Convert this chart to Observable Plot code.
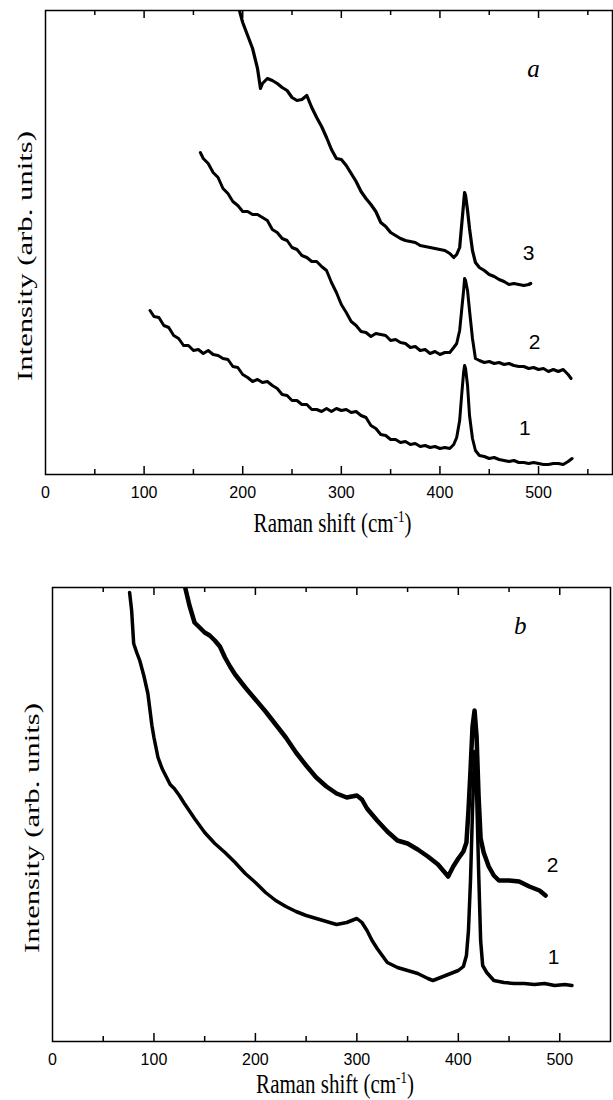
<!DOCTYPE html>
<html><head><meta charset="utf-8">
<script src="https://cdn.jsdelivr.net/npm/d3@7"></script>
<script src="https://cdn.jsdelivr.net/npm/@observablehq/plot@0.6"></script>
<style>body{margin:0;background:#fff}#c{width:613px}</style>
</head><body><div id="c"></div>
<script>
// ---------- data (Raman shift cm-1, intensity arb. units) ----------
const tickLabels = [0, 100, 200, 300, 400, 500];
const ticksMajor = [100, 200, 300, 400, 500];
const ticksMinorA = [50, 150, 250, 350, 450, 550];
const ticksMinorB = [50, 150, 250, 350, 450];

const a1 = [[106,164],[110,158],[115,157],[120,149],[125,147],[130,139],[135,136],[140,129],[145,129],[150,124],[155,125],[160,121],[165,124],[170,120],[175,119],[180,116],[185,115],[190,108],[195,107],[200,100],[205,97],[210,93],[215,95],[220,92],[225,93],[230,89],[235,86],[240,80],[245,79],[250,74],[255,74],[260,70],[265,70],[270,65],[275,65],[280,63],[285,66],[290,63],[295,66],[300,64],[305,65],[310,62],[315,63],[320,59],[325,57],[330,49],[335,46],[340,40],[345,39],[350,35],[355,35],[360,32],[365,33],[370,30],[375,31],[380,28],[385,29],[390,27],[395,28],[400,26],[405,27],[410,26],[414,30],[417,37],[420,54],[422,79],[424,102],[425,109],[426,106],[428,89],[430,59],[433,36],[436,24],[440,19],[445,18],[450,16],[455,17],[460,15],[465,14],[470,13],[475,14],[480,12],[485,12],[490,11],[495,12],[500,11],[505,10],[510,10],[515,11],[520,11],[525,10],[530,13],[534,16]];
const a2 = [[157,322],[160,316],[165,311],[170,302],[175,297],[180,286],[185,281],[190,273],[195,269],[200,263],[205,263],[210,260],[215,260],[220,257],[225,254],[230,245],[235,242],[240,236],[245,234],[250,227],[255,225],[260,219],[265,217],[270,213],[275,213],[280,208],[285,204],[290,192],[295,182],[300,170],[305,162],[310,153],[315,149],[320,143],[325,142],[330,138],[335,141],[340,140],[345,139],[350,134],[355,135],[360,132],[365,131],[370,127],[375,128],[380,124],[385,125],[390,121],[395,123],[400,120],[405,122],[410,122],[414,127],[417,131],[420,144],[422,164],[424,184],[425,196],[426,194],[428,184],[430,164],[433,136],[436,116],[440,114],[445,112],[450,113],[455,111],[460,112],[465,110],[470,111],[475,109],[480,108],[485,108],[490,106],[495,107],[500,105],[505,106],[510,103],[515,105],[520,103],[525,105],[530,100],[533,96]];
const a3 = [[195,470],[200,452],[205,439],[210,426],[215,406],[218,386],[220,391],[225,396],[230,394],[235,391],[240,387],[245,384],[250,377],[255,374],[260,375],[265,379],[270,367],[275,357],[280,348],[285,337],[290,325],[295,316],[300,315],[305,309],[310,301],[315,293],[320,283],[325,276],[330,270],[335,263],[340,252],[345,248],[350,242],[355,239],[360,236],[365,234],[370,233],[375,232],[380,229],[385,228],[390,227],[395,226],[400,225],[405,224],[410,221],[414,217],[417,220],[420,227],[422,249],[424,271],[425,282],[426,279],[428,264],[430,246],[433,224],[436,212],[440,207],[445,204],[450,200],[455,198],[460,195],[465,193],[470,190],[475,191],[480,190],[485,189],[490,190],[492,191]];

const b1 = [[76,449],[78,431],[80,398],[83,389],[86,381],[90,366],[94,348],[98,316],[100,304],[104,284],[108,273],[112,265],[116,257],[120,253],[125,246],[130,238],[140,223],[150,209],[160,198],[170,189],[180,179],[190,168],[200,159],[210,149],[220,141],[230,135],[240,130],[250,126],[260,123],[270,120],[280,117],[290,119],[300,123],[305,119],[310,111],[315,101],[320,93],[325,86],[330,79],[340,74],[350,71],[360,68],[370,63],[375,61],[380,63],[390,67],[400,71],[405,75],[408,86],[410,111],[412,161],[414,231],[416,290],[418,250],[420,171],[422,101],[424,76],[428,69],[435,61],[445,59],[455,58],[465,58],[475,57],[485,58],[495,56],[505,57],[512,56]];
const b2 = [[131,453],[135,436],[140,419],[145,414],[150,409],[155,406],[160,401],[165,395],[170,384],[175,375],[180,367],[190,354],[200,342],[210,330],[220,317],[230,304],[240,289],[250,276],[260,264],[270,255],[280,248],[290,244],[300,246],[305,242],[310,233],[320,221],[330,210],[340,201],[350,198],[360,192],[370,185],[380,177],[390,165],[395,175],[400,183],[405,190],[408,199],[410,231],[412,271],[414,315],[416,331],[418,305],[420,245],[422,203],[425,189],[430,175],[435,166],[440,161],[450,161],[460,160],[470,155],[480,151],[486,146]];

const curveLabelsA = [{x:490,y:221,t:"3"},{x:496,y:132,t:"2"},{x:486,y:46,t:"1"}];
const curveLabelsB = [{x:493,y:176,t:"2"},{x:494,y:84,t:"1"}];
const letterA = [{x:495,y:406,t:"a"}];
const letterB = [{x:461,y:416,t:"b"}];

const xTitle = ["Raman shift (cm", "-1", ")"];
const yTitle = "Intensity (arb. units)";

// ---------- drawing ----------
function panel({curves, widths, labels, letter, xMax, yMax, m, minor, titleOffset}) {
  const W = 613, H = 550;
  const ph = H - m.top - m.bottom;
  const tickStyle = {stroke: "#000", strokeWidth: 1.5};
  const fig = Plot.plot({
    width: W, height: H,
    marginTop: m.top, marginBottom: m.bottom, marginLeft: m.left, marginRight: m.right,
    x: {domain: [0, xMax]},
    y: {domain: [0, yMax], axis: null},
    style: {fontFamily: "Liberation Sans", fontSize: "16px", color: "#000", background: "#fff"},
    marks: [
      Plot.ruleX(ticksMajor, {x: d => d, insetTop: ph - 8, ...tickStyle}),
      Plot.ruleX(ticksMajor, {x: d => d, insetBottom: ph - 8, ...tickStyle}),
      Plot.ruleX(minor, {x: d => d, insetTop: ph - 5, ...tickStyle}),
      Plot.ruleX(minor, {x: d => d, insetBottom: ph - 5, ...tickStyle}),
      ...curves.map((c, i) => Plot.line(c, {x: d => d[0], y: d => d[1], stroke: "#000", strokeWidth: widths[i], strokeLinejoin: "round", clip: true})),
      Plot.frame({stroke: "#000", strokeWidth: 1.5}),
      Plot.text(labels, {x: "x", y: "y", text: "t", fontSize: 21, fontFamily: "Liberation Sans", fill: "#000"}),
      Plot.text(letter, {x: "x", y: "y", text: "t", fontSize: 25, fontStyle: "italic", fontFamily: "Liberation Serif", fill: "#000"}),
      Plot.axisX(tickLabels, {tickSize: 0, tickPadding: 12, label: null, fill: "#000"})
    ]
  });
  const svg = d3.select(fig);
  const xr = fig.scale("x").range, yr = fig.scale("y").range;
  const cx = (xr[0] + xr[1]) / 2 + 4;
  const xt = svg.append("text")
    .attr("transform", `translate(${cx},${yr[0] + titleOffset}) scale(1,1.25)`)
    .attr("text-anchor", "middle").attr("dy", "0.35em")
    .attr("font-family", "Liberation Serif").attr("font-size", 21).attr("fill", "#000");
  xt.append("tspan").text(xTitle[0]);
  xt.append("tspan").attr("dy", -8).attr("font-size", 13).text(xTitle[1]);
  xt.append("tspan").attr("dy", 8).text(xTitle[2]);
  const cy = (yr[0] + yr[1]) / 2 + 14;
  svg.append("text")
    .attr("transform", `translate(${xr[0] - 20},${cy}) rotate(-90)`)
    .attr("text-anchor", "middle").attr("dy", "0.35em")
    .attr("font-family", "Liberation Serif").attr("font-size", 20).attr("fill", "#000")
    .attr("textLength", 250).attr("lengthAdjust", "spacingAndGlyphs")
    .text(yTitle);
  return fig;
}

const c = document.getElementById("c");
c.append(panel({curves: [a1, a2, a3], widths: [3, 3, 3.2], labels: curveLabelsA, letter: letterA, xMax: 575, yMax: 464,
  m: {top: 10, bottom: 76, left: 45, right: 1}, minor: ticksMinorA, titleOffset: 49}));
c.append(panel({curves: [b1, b2], widths: [3.5, 4.5], labels: curveLabelsB, letter: letterB, xMax: 550, yMax: 454,
  m: {top: 37, bottom: 59, left: 52, right: 3}, minor: ticksMinorB, titleOffset: 43}));
</script></body></html>
